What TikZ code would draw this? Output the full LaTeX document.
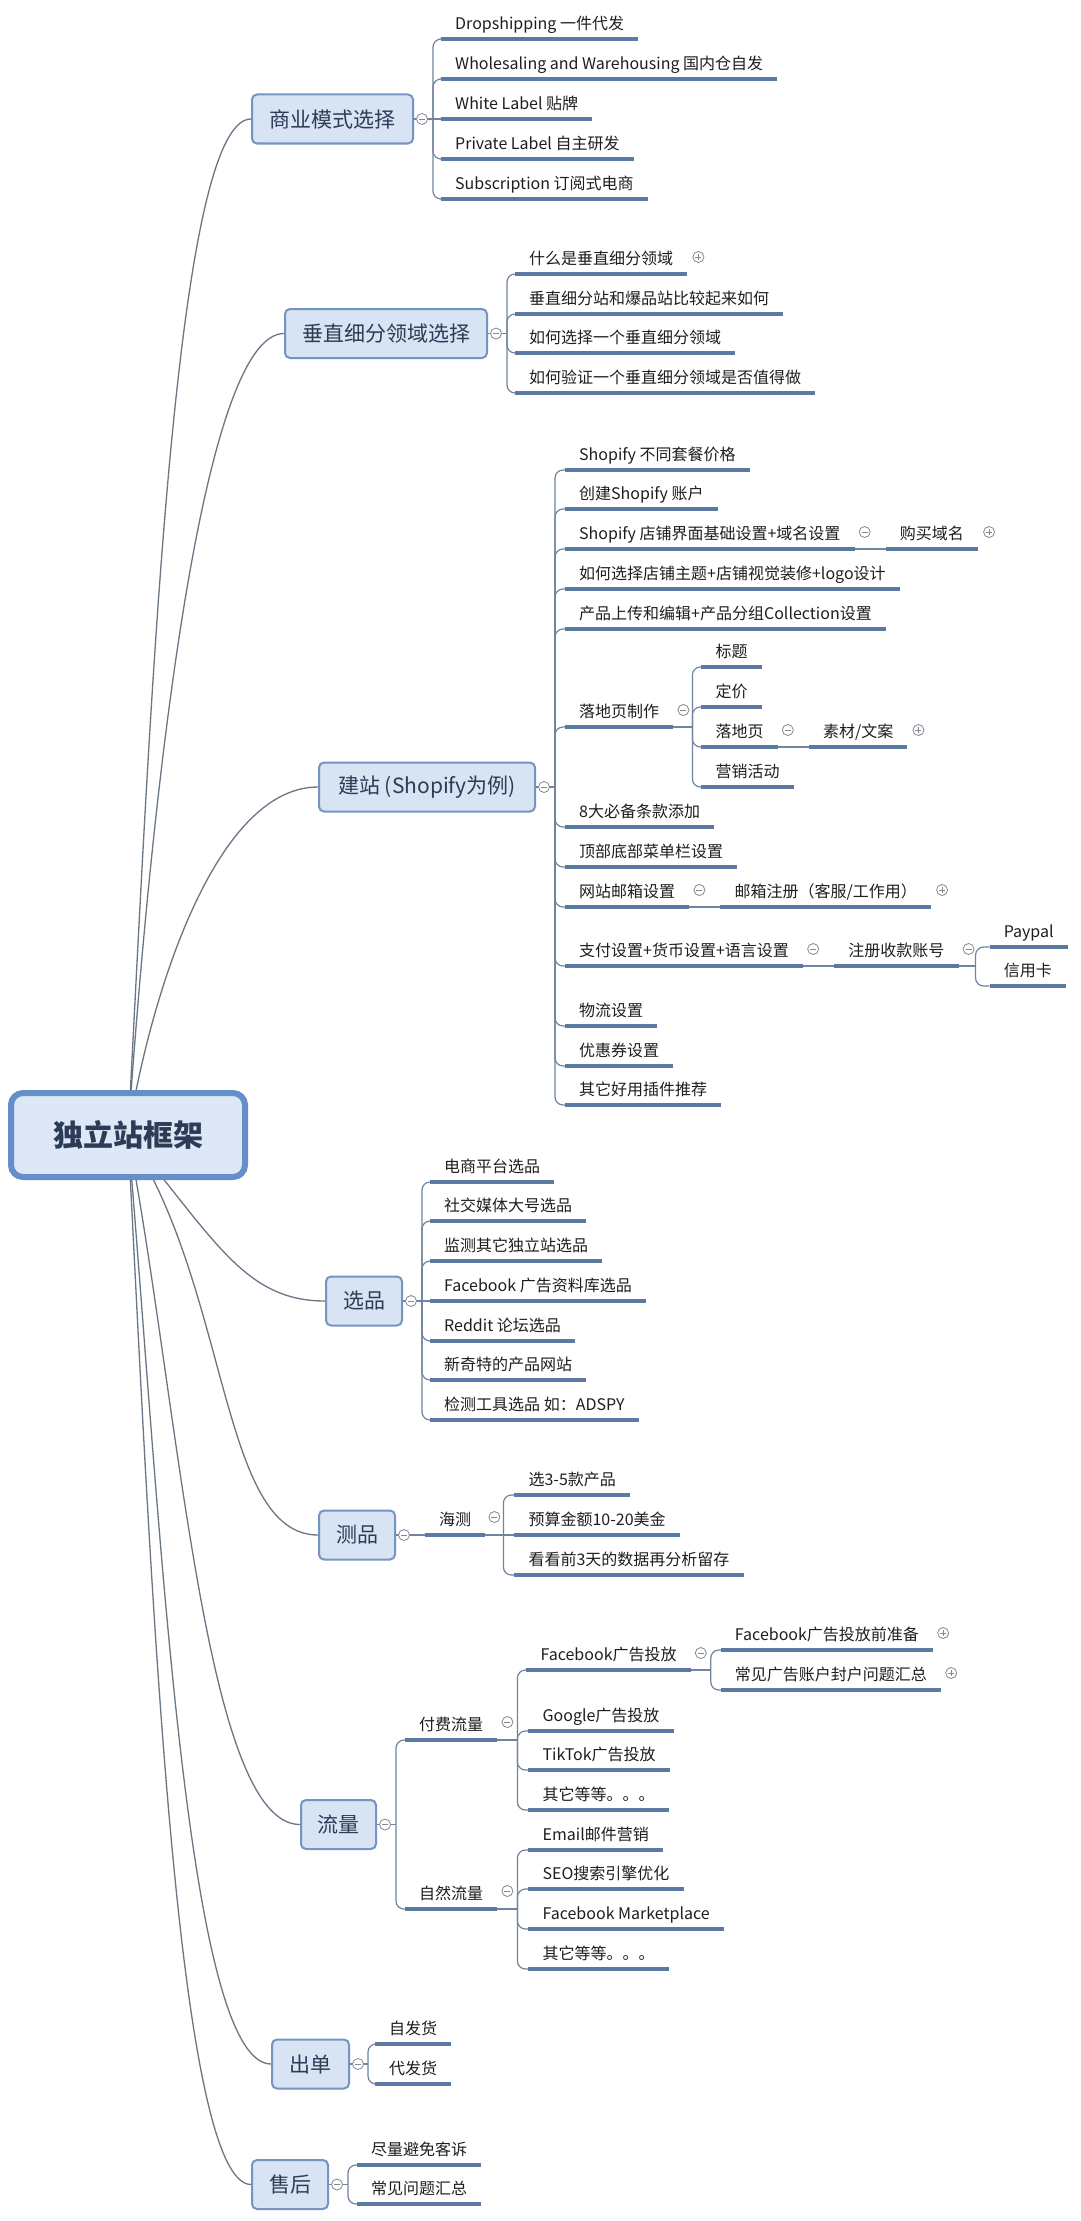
\documentclass[tikz,border=0pt]{standalone}
\usepackage{fontspec}
\setmainfont{Noto Sans CJK SC}
\usetikzlibrary{calc}
\definecolor{ulc}{RGB}{90,122,163}
\definecolor{brc}{RGB}{112,132,156}
\definecolor{rootln}{RGB}{105,118,132}
\definecolor{boxf}{RGB}{216,227,243}
\definecolor{boxd}{RGB}{118,148,193}
\definecolor{boxt}{RGB}{44,60,86}
\definecolor{rootf}{RGB}{221,231,245}
\definecolor{rootd}{RGB}{100,143,200}
\definecolor{leaft}{RGB}{30,30,30}
\definecolor{circd}{RGB}{130,136,145}
\pgfdeclarelayer{bg}\pgfdeclarelayer{back}\pgfsetlayers{bg,back,main}
\tikzset{
 leaf/.style={anchor=south west, inner xsep=14pt, inner ysep=6pt, text height=12pt, text depth=3pt, font=\fontsize{16pt}{16pt}\selectfont, text=leaft},
 uline/.style={draw=ulc, line width=4pt},
 br/.style={draw=brc, line width=1.2pt, rounded corners=8pt},
 rootcurve/.style={draw=rootln, line width=1.3pt},
 mainbox/.style={anchor=west, draw=boxd, fill=boxf, line width=2pt, rounded corners=5pt, inner xsep=0pt, minimum height=49pt, font=\fontsize{21pt}{21pt}\selectfont, text=boxt},
 rootbox/.style={draw=rootd, fill=rootf, line width=6pt, rounded corners=12pt, minimum width=234pt, minimum height=84pt, font=\bfseries\fontsize{30pt}{30pt}\selectfont, text=boxt},
 circbase/.style={circle, draw=circd, fill=white, line width=0.8pt, minimum size=11pt, inner sep=0pt},
 mn/.style={circbase, path picture={\draw[circd, line width=0.8pt] ([xshift=-3pt]path picture bounding box.center) -- ([xshift=3pt]path picture bounding box.center);}},
 pl/.style={circbase, path picture={\draw[circd, line width=0.8pt] ([xshift=-3pt]path picture bounding box.center) -- ([xshift=3pt]path picture bounding box.center) ([yshift=-3pt]path picture bounding box.center) -- ([yshift=3pt]path picture bounding box.center);}},
}
\newcommand\mkleaf[3]{\node[leaf] (#1) at #2 {#3};\draw[uline] (#1.south west) -- (#1.south east);}
\newcommand\bk[1]{\begin{pgfonlayer}{back}#1\end{pgfonlayer}}
\begin{document}
\begin{tikzpicture}[x=1pt,y=-1pt]
\useasboundingbox (0,0) rectangle (1080,2221);
\begin{pgfonlayer}{bg}\fill[white] (0,0) rectangle (1080,2221);\end{pgfonlayer}

% root
\node[rootbox] (root) at (128,1135) {独立站框架};

% main boxes
\node[mainbox, minimum width=161pt] (mA) at (251,119) {商业模式选择};
\node[mainbox, minimum width=202pt] (mB) at (284,333.5) {垂直细分领域选择};
\node[mainbox, minimum width=216pt] (mC) at (318,787) {建站 (Shopify为例)};
\node[mainbox, minimum width=76pt] (mD) at (325,1301) {选品};
\node[mainbox, minimum width=76pt] (mE) at (318,1535) {测品};
\node[mainbox, minimum width=75pt] (mF) at (300,1824.5) {流量};
\node[mainbox, minimum width=77pt] (mG) at (271,2064) {出单};
\node[mainbox, minimum width=76pt] (mH) at (251,2184.5) {售后};

\bk{
\draw[rootcurve] (root.center) .. controls (150,728) and (173,119) .. (mA.west);
\draw[rootcurve] (root.center) .. controls (150,814) and (200,333.5) .. (mB.west);
\draw[rootcurve] (root.center) .. controls (150,996) and (215,787) .. (mC.west);
\draw[rootcurve] (root.center) .. controls (215,1240) and (245,1301) .. (mD.west);
\draw[rootcurve] (root.center) .. controls (230,1290) and (220,1535) .. (mE.west);
\draw[rootcurve] (root.center) .. controls (180,1410) and (205,1824.5) .. (mF.west);
\draw[rootcurve] (root.center) .. controls (160,1507) and (185,2064) .. (mG.west);
\draw[rootcurve] (root.center) .. controls (150,1555) and (175,2184.5) .. (mH.west);
}

% ---------- A
\node[mn] (cA) at ($(mA.east)+(8,0)$) {};
\coordinate (sA) at ($(mA.east)+(19,0)$);
\mkleaf{a1}{(441,39)}{Dropshipping 一件代发}
\mkleaf{a2}{(441,79)}{Wholesaling and Warehousing 国内仓自发}
\mkleaf{a3}{(441,119)}{White Label 贴牌}
\mkleaf{a4}{(441,159)}{Private Label 自主研发}
\mkleaf{a5}{(441,199)}{Subscription 订阅式电商}
\bk{
\draw[br] (mA.east) -- (sA);
\draw[br] (sA) |- (a1.south west);
\draw[br] (sA) |- (a2.south west);
\draw[br] (sA) -- (a3.south west);
\draw[br] (sA) |- (a4.south west);
\draw[br] (sA) |- (a5.south west);
}

% ---------- B
\node[mn] (cB) at ($(mB.east)+(8,0)$) {};
\coordinate (sB) at ($(mB.east)+(19,0)$);
\mkleaf{b1}{(515,274)}{什么是垂直细分领域}
\mkleaf{b2}{(515,314)}{垂直细分站和爆品站比较起来如何}
\mkleaf{b3}{(515,353)}{如何选择一个垂直细分领域}
\mkleaf{b4}{(515,393)}{如何验证一个垂直细分领域是否值得做}
\node[pl] (b1p) at ($(b1.south east)+(11,-17)$) {};
\bk{
\draw[br] (mB.east) -- (sB);
\draw[br] (sB) |- (b1.south west);
\draw[br] (sB) |- (b2.south west);
\draw[br] (sB) |- (b3.south west);
\draw[br] (sB) |- (b4.south west);
}

% ---------- C
\node[mn] (cC) at ($(mC.east)+(8,0)$) {};
\coordinate (sC) at ($(mC.east)+(19,0)$);
\mkleaf{c1}{(565,470)}{Shopify 不同套餐价格}
\mkleaf{c2}{(565,509)}{创建Shopify 账户}
\mkleaf{c3}{(565,549)}{Shopify 店铺界面基础设置+域名设置}
\mkleaf{c4}{(565,589)}{如何选择店铺主题+店铺视觉装修+logo设计}
\mkleaf{c5}{(565,629)}{产品上传和编辑+产品分组Collection设置}
\mkleaf{c6}{(565,727)}{落地页制作}
\mkleaf{c7}{(565,827)}{8大必备条款添加}
\mkleaf{c8}{(565,867)}{顶部底部菜单栏设置}
\mkleaf{c9}{(565,907)}{网站邮箱设置}
\mkleaf{c10}{(565,966)}{支付设置+货币设置+语言设置}
\mkleaf{c11}{(565,1026)}{物流设置}
\mkleaf{c12}{(565,1066)}{优惠券设置}
\mkleaf{c13}{(565,1105)}{其它好用插件推荐}
\bk{
\draw[br] (mC.east) -- (sC);
\foreach \n in {c1,c2,c3,c4,c5,c6,c7,c8,c9,c10,c11,c12,c13}{\draw[br] (sC) |- (\n.south west);}
}
% c3 sub
\node[mn] (c3m) at ($(c3.south east)+(10,-17)$) {};
\mkleaf{c3a}{($(c3.south east)+(31,0)$)}{购买域名}
\node[pl] (c3ap) at ($(c3a.south east)+(11,-17)$) {};
\bk{\draw[br] (c3.south east) -- (c3a.south west);}
% c6 sub
\node[mn] (c6m) at ($(c6.south east)+(10,-17)$) {};
\coordinate (c6s) at ($(c6.south east)+(19,0)$);
\mkleaf{c6a}{($(c6.south east)+(28,-60)$)}{标题}
\mkleaf{c6b}{($(c6.south east)+(28,-20)$)}{定价}
\mkleaf{c6c}{($(c6.south east)+(28,20)$)}{落地页}
\mkleaf{c6d}{($(c6.south east)+(28,60)$)}{营销活动}
\bk{
\draw[br] (c6.south east) -- (c6s);
\foreach \n in {c6a,c6b,c6c,c6d}{\draw[br] (c6s) |- (\n.south west);}
}
\node[mn] (c6cm) at ($(c6c.south east)+(10,-17)$) {};
\mkleaf{c6c1}{($(c6c.south east)+(31,0)$)}{素材/文案}
\node[pl] (c6c1p) at ($(c6c1.south east)+(11,-17)$) {};
\bk{\draw[br] (c6c.south east) -- (c6c1.south west);}
% c9 sub
\node[mn] (c9m) at ($(c9.south east)+(10,-17)$) {};
\mkleaf{c9a}{($(c9.south east)+(31,0)$)}{邮箱注册（客服/工作用）}
\node[pl] (c9ap) at ($(c9a.south east)+(11,-17)$) {};
\bk{\draw[br] (c9.south east) -- (c9a.south west);}
% c10 sub
\node[mn] (c10m) at ($(c10.south east)+(10,-17)$) {};
\mkleaf{c10a}{($(c10.south east)+(31,0)$)}{注册收款账号}
\node[mn] (c10am) at ($(c10a.south east)+(10,-17)$) {};
\coordinate (c10s) at ($(c10a.south east)+(17,0)$);
\mkleaf{c10a1}{($(c10a.south east)+(31,-19)$)}{Paypal}
\mkleaf{c10a2}{($(c10a.south east)+(31,20)$)}{信用卡}
\bk{
\draw[br] (c10.south east) -- (c10a.south west);
\draw[br] (c10a.south east) -- (c10s);
\draw[br] (c10s) |- (c10a1.south west);
\draw[br] (c10s) |- (c10a2.south west);
}

% ---------- D
\node[mn] (cD) at ($(mD.east)+(8,0)$) {};
\coordinate (sD) at ($(mD.east)+(19,0)$);
\mkleaf{d1}{(430,1182)}{电商平台选品}
\mkleaf{d2}{(430,1221)}{社交媒体大号选品}
\mkleaf{d3}{(430,1261)}{监测其它独立站选品}
\mkleaf{d4}{(430,1301)}{Facebook 广告资料库选品}
\mkleaf{d5}{(430,1341)}{Reddit 论坛选品}
\mkleaf{d6}{(430,1380)}{新奇特的产品网站}
\mkleaf{d7}{(430,1420)}{检测工具选品 如：ADSPY}
\bk{
\draw[br] (mD.east) -- (sD);
\foreach \n in {d1,d2,d3,d5,d6,d7}{\draw[br] (sD) |- (\n.south west);}
\draw[br] (sD) -- (d4.south west);
}

% ---------- E
\node[mn] (cE) at ($(mE.east)+(8,0)$) {};
\mkleaf{e1}{(425,1535)}{海测}
\node[mn] (e1m) at ($(e1.south east)+(9,-18)$) {};
\coordinate (e1s) at ($(e1.south east)+(18,0)$);
\mkleaf{e1a}{($(e1.south east)+(29,-40)$)}{选3-5款产品}
\mkleaf{e1b}{($(e1.south east)+(29,0)$)}{预算金额10-20美金}
\mkleaf{e1c}{($(e1.south east)+(29,40)$)}{看看前3天的数据再分析留存}
\bk{
\draw[br] (mE.east) -- (e1.south west);
\draw[br] (e1.south east) -- (e1s);
\draw[br] (e1s) |- (e1a.south west);
\draw[br] (e1s) -- (e1b.south west);
\draw[br] (e1s) |- (e1c.south west);
}

% ---------- F
\node[mn] (cF) at ($(mF.east)+(8,0)$) {};
\coordinate (sF) at ($(mF.east)+(19,0)$);
\mkleaf{f1}{(405,1740)}{付费流量}
\mkleaf{f2}{(405,1909)}{自然流量}
\bk{
\draw[br] (mF.east) -- (sF);
\draw[br] (sF) |- (f1.south west);
\draw[br] (sF) |- (f2.south west);
}
\node[mn] (f1m) at ($(f1.south east)+(10,-18)$) {};
\coordinate (f1s) at ($(f1.south east)+(20,0)$);
\mkleaf{f1a}{($(f1.south east)+(29,-70)$)}{Facebook广告投放}
\mkleaf{f1b}{($(f1.south east)+(31,-9)$)}{Google广告投放}
\mkleaf{f1c}{($(f1.south east)+(31,30)$)}{TikTok广告投放}
\mkleaf{f1d}{($(f1.south east)+(31,70)$)}{其它等等。。。}
\bk{
\draw[br] (f1.south east) -- (f1s);
\foreach \n in {f1a,f1b,f1c,f1d}{\draw[br] (f1s) |- (\n.south west);}
}
\node[mn] (f1am) at ($(f1a.south east)+(10,-17)$) {};
\coordinate (f1as) at ($(f1a.south east)+(20,0)$);
\mkleaf{f1a1}{($(f1a.south east)+(30,-20)$)}{Facebook广告投放前准备}
\mkleaf{f1a2}{($(f1a.south east)+(30,20)$)}{常见广告账户封户问题汇总}
\node[pl] (f1a1p) at ($(f1a1.south east)+(10,-17)$) {};
\node[pl] (f1a2p) at ($(f1a2.south east)+(10,-17)$) {};
\bk{
\draw[br] (f1a.south east) -- (f1as);
\draw[br] (f1as) |- (f1a1.south west);
\draw[br] (f1as) |- (f1a2.south west);
}
\node[mn] (f2m) at ($(f2.south east)+(10,-18)$) {};
\coordinate (f2s) at ($(f2.south east)+(20,0)$);
\mkleaf{f2a}{($(f2.south east)+(31,-59)$)}{Email邮件营销}
\mkleaf{f2b}{($(f2.south east)+(31,-20)$)}{SEO搜索引擎优化}
\mkleaf{f2c}{($(f2.south east)+(31,20)$)}{Facebook Marketplace}
\mkleaf{f2d}{($(f2.south east)+(31,60)$)}{其它等等。。。}
\bk{
\draw[br] (f2.south east) -- (f2s);
\foreach \n in {f2a,f2b,f2c,f2d}{\draw[br] (f2s) |- (\n.south west);}
}

% ---------- G
\node[mn] (cG) at ($(mG.east)+(8,0)$) {};
\coordinate (sG) at ($(mG.east)+(18,0)$);
\mkleaf{g1}{(375,2044)}{自发货}
\mkleaf{g2}{(375,2084)}{代发货}
\bk{
\draw[br] (mG.east) -- (sG);
\draw[br] (sG) |- (g1.south west);
\draw[br] (sG) |- (g2.south west);
}

% ---------- H
\node[mn] (cH) at ($(mH.east)+(8,0)$) {};
\coordinate (sH) at ($(mH.east)+(19,0)$);
\mkleaf{h1}{(357,2165)}{尽量避免客诉}
\mkleaf{h2}{(357,2204)}{常见问题汇总}
\bk{
\draw[br] (mH.east) -- (sH);
\draw[br] (sH) |- (h1.south west);
\draw[br] (sH) |- (h2.south west);
}
\end{tikzpicture}
\end{document}
